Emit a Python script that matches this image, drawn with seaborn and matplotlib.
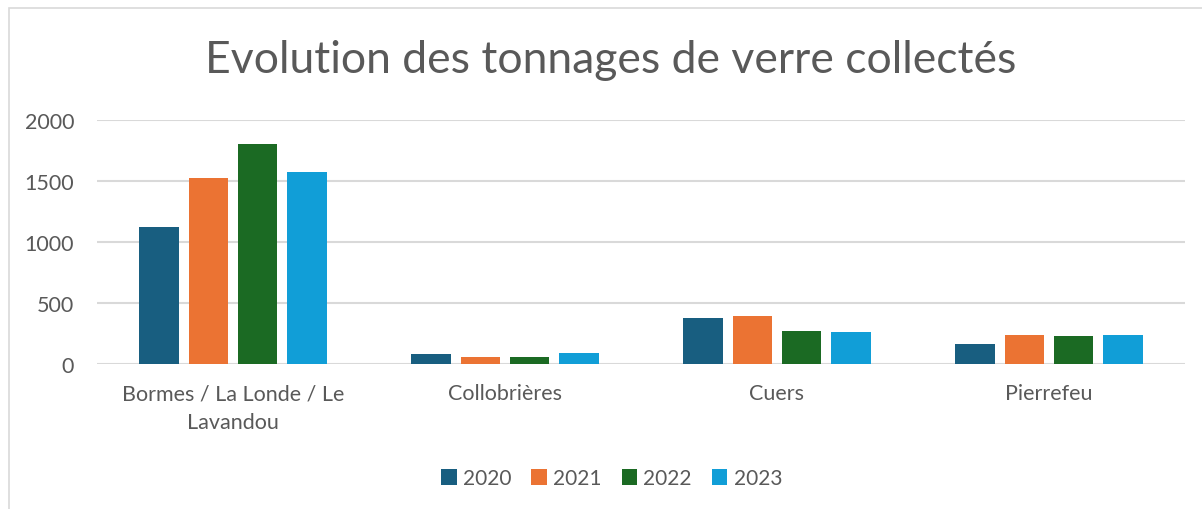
import numpy as np
import pandas as pd
import matplotlib
matplotlib.use("Agg")
import matplotlib.pyplot as plt
from matplotlib.patches import Rectangle
import seaborn as sns

categories = ["Bormes / La Londe / Le\nLavandou", "Collobrières", "Cuers", "Pierrefeu"]
years = ["2020", "2021", "2022", "2023"]
v2020 = [1120, 77, 378, 160]
v2021 = [1520, 58, 390, 238]
v2022 = [1800, 56, 266, 228]
v2023 = [1570, 85, 258, 238]
colors = ["#185E80", "#EB7333", "#1B6A23", "#119ED7"]

rows = []
for y, vals in zip(years, [v2020, v2021, v2022, v2023]):
    for c, v in zip(categories, vals):
        rows.append({"cat": c, "year": y, "val": v})
df = pd.DataFrame(rows)

sns.set_theme(style="white")
plt.rcParams['font.family'] = ['Lato', 'DejaVu Sans']

fig = plt.figure(figsize=(12.02, 5.10), dpi=100)
ax = fig.add_axes([97/1202, 145.3/510, (1185-97)/1202, (364.7-120.7)/510])

sns.barplot(data=df, x="cat", y="val", hue="year", order=categories, hue_order=years,
            palette=colors, width=0.725, gap=0.2, ax=ax, edgecolor="none", saturation=1)

ax.set_ylim(0, 2000)
ax.set_xlim(-0.5, 3.5)
ax.set_yticks([0, 500, 1000, 1500, 2000])
ax.yaxis.grid(True, color="#d9d9d9", linewidth=1.5)
ax.set_axisbelow(True)
for s in ax.spines.values():
    s.set_visible(False)
ax.set_xlabel("")
ax.set_ylabel("")
ax.tick_params(axis="both", length=0, colors="#595959", labelsize=15.5)
ax.tick_params(axis="y", pad=16.5)
ax.tick_params(axis="x", pad=14)
for lbl in ax.get_xticklabels():
    lbl.set_linespacing(1.55)

fig.text(0.508, 0.882, "Evolution des tonnages de verre collectés", ha="center", va="center",
         fontsize=32, color="#595959")

leg = ax.legend(loc="center", bbox_to_anchor=(0.473, -0.47), ncol=4, frameon=False,
                fontsize=15, handlelength=0.75, handleheight=0.75, handletextpad=0.3,
                columnspacing=0.95)
for t in leg.get_texts():
    t.set_color("#595959")

fig.patches.append(Rectangle((9/1202, -0.1), 1.2, (510-9)/510 + 0.1, transform=fig.transFigure,
                             fill=False, edgecolor="#d9d9d9", linewidth=1.2, zorder=0))

fig.savefig("out.png", dpi=100)
